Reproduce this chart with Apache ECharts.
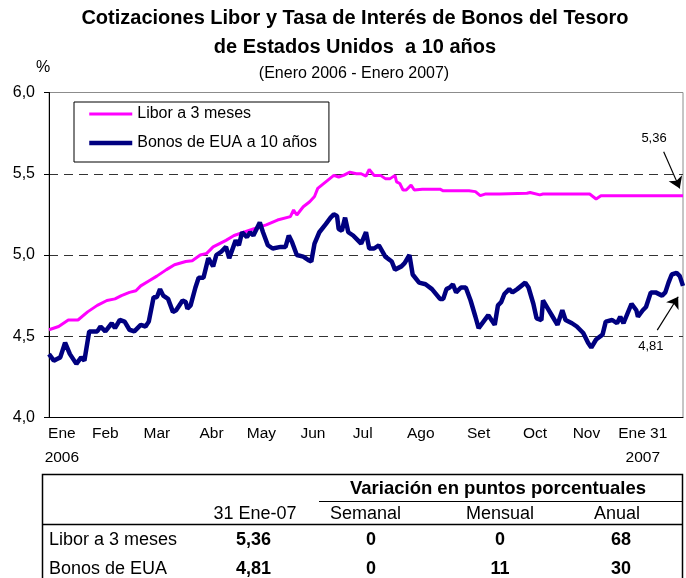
<!DOCTYPE html>
<html>
<head>
<meta charset="utf-8">
<title>Cotizaciones Libor y Bonos del Tesoro</title>
<script src="https://cdn.jsdelivr.net/npm/echarts@6/dist/echarts.min.js"></script>
<style>
  html, body { margin: 0; padding: 0; background: #fff; }
  #chart { width: 686px; height: 578px; }
</style>
</head>
<body>
<div id="chart"></div>
<script>
// Libor a 3 meses
var fechasLibor = [
  '2006-01-02', '2006-01-08', '2006-01-14', '2006-01-20', '2006-01-26',
  '2006-02-01', '2006-02-07', '2006-02-12', '2006-02-16', '2006-02-21', '2006-02-25', '2006-02-28',
  '2006-03-05', '2006-03-10', '2006-03-16', '2006-03-21', '2006-03-28',
  '2006-04-01', '2006-04-06', '2006-04-10', '2006-04-14', '2006-04-18', '2006-04-22', '2006-04-27',
  '2006-05-03', '2006-05-09', '2006-05-17', '2006-05-24',
  '2006-06-01', '2006-06-03', '2006-06-05', '2006-06-09', '2006-06-13', '2006-06-16', '2006-06-18', '2006-06-23', '2006-06-28',
  '2006-07-01', '2006-07-04', '2006-07-08', '2006-07-12', '2006-07-15', '2006-07-18', '2006-07-20', '2006-07-23', '2006-07-27', '2006-07-30',
  '2006-08-02', '2006-08-05', '2006-08-06', '2006-08-08', '2006-08-10', '2006-08-12', '2006-08-15', '2006-08-17', '2006-08-22',
  '2006-09-02', '2006-09-04', '2006-09-20', '2006-09-24', '2006-09-27', '2006-09-30',
  '2006-10-06', '2006-10-07', '2006-10-09', '2006-10-26', '2006-10-28',
  '2006-11-03', '2006-11-05',
  '2006-12-04', '2006-12-08', '2006-12-11',
  '2007-01-31'
];
var libor = [
  4.54, 4.56, 4.60, 4.60, 4.65,
  4.69, 4.72, 4.73, 4.75, 4.77, 4.78, 4.81,
  4.84, 4.87, 4.91, 4.94, 4.96,
  4.965, 5.00, 5.01, 5.05, 5.07, 5.09, 5.12,
  5.14, 5.16, 5.185, 5.215,
  5.236, 5.277, 5.246, 5.297, 5.328, 5.36, 5.41, 5.45, 5.49,
  5.48, 5.49, 5.51, 5.50, 5.50, 5.486, 5.527, 5.49, 5.49, 5.47,
  5.47, 5.49, 5.45, 5.44, 5.40, 5.40, 5.43, 5.40, 5.405,
  5.405, 5.395, 5.395, 5.39, 5.365, 5.375,
  5.375, 5.365, 5.375, 5.38, 5.385,
  5.37, 5.375,
  5.375, 5.345, 5.365,
  5.365
];

// Bonos de EUA a 10 años
var fechasBonos = [
  '2006-01-02', '2006-01-05', '2006-01-07', '2006-01-09', '2006-01-12', '2006-01-15', '2006-01-19', '2006-01-22', '2006-01-24', '2006-01-27',
  '2006-02-01', '2006-02-03', '2006-02-06', '2006-02-10', '2006-02-12', '2006-02-15', '2006-02-18', '2006-02-21', '2006-02-24', '2006-02-28',
  '2006-03-03', '2006-03-05', '2006-03-08', '2006-03-10', '2006-03-12', '2006-03-14', '2006-03-17', '2006-03-20', '2006-03-22', '2006-03-26', '2006-03-28', '2006-03-29', '2006-03-31',
  '2006-04-03', '2006-04-05', '2006-04-08', '2006-04-09', '2006-04-11', '2006-04-14', '2006-04-16', '2006-04-19', '2006-04-22', '2006-04-24', '2006-04-28', '2006-04-30',
  '2006-05-02', '2006-05-05', '2006-05-07', '2006-05-09', '2006-05-13', '2006-05-15', '2006-05-18', '2006-05-21', '2006-05-26', '2006-05-29', '2006-05-31',
  '2006-06-02', '2006-06-05', '2006-06-09', '2006-06-12', '2006-06-14', '2006-06-16', '2006-06-19', '2006-06-23', '2006-06-26', '2006-06-28', '2006-06-30',
  '2006-07-01', '2006-07-03', '2006-07-05', '2006-07-07', '2006-07-10', '2006-07-13', '2006-07-15', '2006-07-18', '2006-07-20', '2006-07-23', '2006-07-26', '2006-07-30',
  '2006-08-03', '2006-08-05', '2006-08-09', '2006-08-11', '2006-08-14', '2006-08-16', '2006-08-20', '2006-08-24', '2006-08-28',
  '2006-09-02', '2006-09-04', '2006-09-06', '2006-09-08', '2006-09-10', '2006-09-12', '2006-09-15', '2006-09-18', '2006-09-21', '2006-09-24', '2006-09-26', '2006-09-29',
  '2006-10-02', '2006-10-04', '2006-10-06', '2006-10-08', '2006-10-10', '2006-10-12', '2006-10-15', '2006-10-17', '2006-10-20', '2006-10-25', '2006-10-27', '2006-10-30',
  '2006-11-01', '2006-11-04', '2006-11-05', '2006-11-08', '2006-11-11', '2006-11-14', '2006-11-17', '2006-11-19', '2006-11-23', '2006-11-26', '2006-11-30',
  '2006-12-03', '2006-12-05', '2006-12-08', '2006-12-12', '2006-12-14', '2006-12-18', '2006-12-21', '2006-12-23', '2006-12-25', '2006-12-30',
  '2007-01-02', '2007-01-03', '2007-01-06', '2007-01-08', '2007-01-11', '2007-01-14', '2007-01-18', '2007-01-20', '2007-01-22', '2007-01-24', '2007-01-27', '2007-01-29', '2007-01-31'
];
var bonos = [
  4.39, 4.35, 4.36, 4.37, 4.46, 4.39, 4.33, 4.37, 4.35, 4.53,
  4.53, 4.56, 4.53, 4.58, 4.55, 4.60, 4.59, 4.54, 4.53, 4.57,
  4.56, 4.59, 4.74, 4.74, 4.79, 4.75, 4.73, 4.65, 4.66, 4.72, 4.71, 4.67, 4.69,
  4.80, 4.86, 4.86, 4.85, 4.98, 4.93, 5.00, 5.02, 5.05, 4.98, 5.09, 5.06,
  5.14, 5.11, 5.14, 5.12, 5.20, 5.14, 5.06, 5.04, 5.05, 5.05, 5.12,
  5.08, 5.00, 4.99, 4.97, 4.96, 5.07, 5.14, 5.19, 5.23, 5.25, 5.24,
  5.16, 5.15, 5.23, 5.14, 5.12, 5.09, 5.07, 5.14, 5.04, 5.04, 5.06, 4.99,
  4.96, 4.91, 4.93, 4.95, 5.00, 4.88, 4.83, 4.82, 4.79,
  4.73, 4.73, 4.79, 4.80, 4.82, 4.77, 4.80, 4.80, 4.72, 4.62, 4.55, 4.59,
  4.63, 4.60, 4.57, 4.69, 4.71, 4.76, 4.79, 4.77, 4.79, 4.83, 4.80, 4.70,
  4.61, 4.60, 4.72, 4.67, 4.62, 4.57, 4.66, 4.60, 4.58, 4.56, 4.52,
  4.46, 4.43, 4.48, 4.51, 4.59, 4.60, 4.58, 4.62, 4.58, 4.70,
  4.66, 4.62, 4.66, 4.68, 4.77, 4.77, 4.75, 4.77, 4.83, 4.88, 4.89, 4.87, 4.81
];

// etiquetas del eje x (colocadas a mano en el original)
var fechasEtiquetasX = ['2006-01-10', '2006-02-06', '2006-03-10', '2006-04-13', '2006-05-14', '2006-06-15',
  '2006-07-16', '2006-08-21', '2006-09-26', '2006-10-31', '2006-12-02', '2007-01-06'];
var textosX = ['Ene\n2006', 'Feb', 'Mar', 'Abr', 'May', 'Jun', 'Jul', 'Ago', 'Set', 'Oct', 'Nov', 'Ene 31\n2007'];

// tabla
var tablaFilas = ['Libor a 3 meses', 'Bonos de EUA'];
var tablaColumnas = ['31 Ene-07', 'Semanal', 'Mensual', 'Anual'];
var tablaValores = [
  ['5,36', '0', '0', '68'],
  ['4,81', '0', '11', '30']
];

var FONT = 'Liberation Sans, Arial, sans-serif';

function ts(s) {
  var p = s.split('-');
  return Date.UTC(+p[0], +p[1] - 1, +p[2]);
}
function pares(fechas, valores) {
  return fechas.map(function (f, i) { return [ts(f), valores[i]]; });
}
var posEtiquetasX = fechasEtiquetasX.map(ts);

// tabla como elementos graficos
var colHeadX = [255, 365.5, 500, 617];
var colValX = [253.5, 371, 500, 621];
var filaY = [540, 569];
var graficos = [
  { type: 'rect', shape: { x: 42.5, y: 474.5, width: 640, height: 120 },
    style: { fill: 'none', stroke: '#000', lineWidth: 1.5 } },
  { type: 'line', shape: { x1: 319, y1: 501.5, x2: 682.5, y2: 501.5 },
    style: { stroke: '#000', lineWidth: 1 } },
  { type: 'line', shape: { x1: 42.5, y1: 524.5, x2: 682.5, y2: 524.5 },
    style: { stroke: '#000', lineWidth: 1.5 } },
  { type: 'text', x: 498, y: 488.5,
    style: { text: 'Variación en puntos porcentuales', align: 'center', verticalAlign: 'middle',
      fontSize: 18.5, fontWeight: 'bold', fontFamily: FONT, fill: '#000' } }
];
tablaColumnas.forEach(function (c, j) {
  graficos.push({ type: 'text', x: colHeadX[j], y: 514.5,
    style: { text: c, align: 'center', verticalAlign: 'middle', fontSize: 18, fontFamily: FONT, fill: '#000' } });
});
tablaFilas.forEach(function (f, i) {
  graficos.push({ type: 'text', x: 49, y: filaY[i],
    style: { text: f, align: 'left', verticalAlign: 'middle', fontSize: 18, fontFamily: FONT, fill: '#000' } });
  tablaValores[i].forEach(function (v, j) {
    graficos.push({ type: 'text', x: colValX[j], y: filaY[i],
      style: { text: v, align: 'center', verticalAlign: 'middle', fontSize: 18, fontWeight: 'bold', fontFamily: FONT, fill: '#000' } });
  });
});

var chart = echarts.init(document.getElementById('chart'));
var option = {
  animation: false,
  backgroundColor: '#fff',
  textStyle: { fontFamily: FONT, color: '#000' },
  title: [
    {
      text: 'Cotizaciones Libor y Tasa de Interés de Bonos del Tesoro\nde Estados Unidos  a 10 años',
      left: 355, top: 4, textAlign: 'center', padding: 0,
      textStyle: { fontSize: 20, fontWeight: 'bold', lineHeight: 29, color: '#000', fontFamily: FONT }
    },
    {
      text: '(Enero 2006 - Enero 2007)',
      left: 354, top: 65.5, textAlign: 'center', padding: 0,
      textStyle: { fontSize: 16, fontWeight: 'normal', lineHeight: 16, color: '#000', fontFamily: FONT }
    }
  ],
  legend: {
    orient: 'vertical',
    left: 74, top: 102,
    padding: [4, 12, 11, 13],
    itemGap: 13,
    itemWidth: 43, itemHeight: 14,
    backgroundColor: '#fff',
    borderColor: '#000', borderWidth: 1,
    itemStyle: { opacity: 0 },
    lineStyle: { width: 'inherit' },
    textStyle: { fontSize: 16, color: '#000', fontFamily: FONT },
    data: ['Libor a 3 meses', 'Bonos de EUA a 10 años']
  },
  grid: {
    left: 49, right: 3, top: 92.5, bottom: 160.5,
    show: true, borderColor: '#8c8c8c', borderWidth: 1, backgroundColor: 'transparent'
  },
  xAxis: {
    type: 'value',
    min: ts('2006-01-02'), max: ts('2007-01-31'),
    axisLine: { lineStyle: { color: '#000', width: 1 } },
    axisTick: { show: false },
    splitLine: { show: false },
    axisLabel: {
      customValues: posEtiquetasX,
      margin: 4.5,
      fontSize: 15.5, lineHeight: 23.5, color: '#000', fontFamily: FONT,
      formatter: function (value) {
        var i = posEtiquetasX.indexOf(value);
        return i >= 0 ? textosX[i] : '';
      }
    }
  },
  yAxis: {
    type: 'value',
    min: 4, max: 6, interval: 0.5,
    name: '%', nameLocation: 'end', nameGap: 17,
    nameTextStyle: { fontSize: 16, color: '#000', align: 'center', padding: [0, 12, 0, 0] },
    axisLine: { show: true, lineStyle: { color: '#000', width: 1 } },
    axisTick: { show: true, length: 5, lineStyle: { color: '#000' } },
    axisLabel: {
      margin: 14, fontSize: 16, color: '#000', fontFamily: FONT,
      formatter: function (v) { return v.toFixed(1).replace('.', ','); }
    },
    splitLine: {
      show: true, showMinLine: false, showMaxLine: false,
      lineStyle: { color: '#333', width: 1, type: [9, 6] }
    }
  },
  series: [
    {
      name: 'Libor a 3 meses',
      type: 'line',
      data: pares(fechasLibor, libor),
      showSymbol: false, symbol: 'none',
      color: '#ff00ff',
      lineStyle: { color: '#ff00ff', width: 3 },
      z: 2,
      markPoint: {
        symbol: 'circle', symbolSize: 0, silent: true,
        label: { show: true, position: 'inside', fontSize: 13, color: '#000', fontFamily: FONT, formatter: '{b}' },
        data: [{ name: '5,36', coord: [ts('2007-01-13'), 5.72] }]
      },
      markLine: {
        silent: true, symbol: ['none', 'arrow'], symbolSize: 11,
        label: { show: false },
        lineStyle: { color: '#000', width: 1.2, type: 'solid' },
        data: [[{ coord: [ts('2007-01-19'), 5.636] }, { coord: [ts('2007-01-29'), 5.41] }]]
      }
    },
    {
      name: 'Bonos de EUA a 10 años',
      type: 'line',
      data: pares(fechasBonos, bonos),
      showSymbol: false, symbol: 'none',
      color: '#000080',
      lineStyle: { color: '#000080', width: 4.5 },
      z: 3,
      markPoint: {
        symbol: 'circle', symbolSize: 0, silent: true,
        label: { show: true, position: 'inside', fontSize: 13, color: '#000', fontFamily: FONT, formatter: '{b}' },
        data: [{ name: '4,81', coord: [ts('2007-01-11'), 4.44] }]
      },
      markLine: {
        silent: true, symbol: ['none', 'arrow'], symbolSize: 11,
        label: { show: false },
        lineStyle: { color: '#000', width: 1.2, type: 'solid' },
        data: [[{ coord: [ts('2007-01-15'), 4.538] }, { coord: [ts('2007-01-28'), 4.743] }]]
      }
    }
  ],
  graphic: graficos
};
chart.setOption(option);
</script>
</body>
</html>
